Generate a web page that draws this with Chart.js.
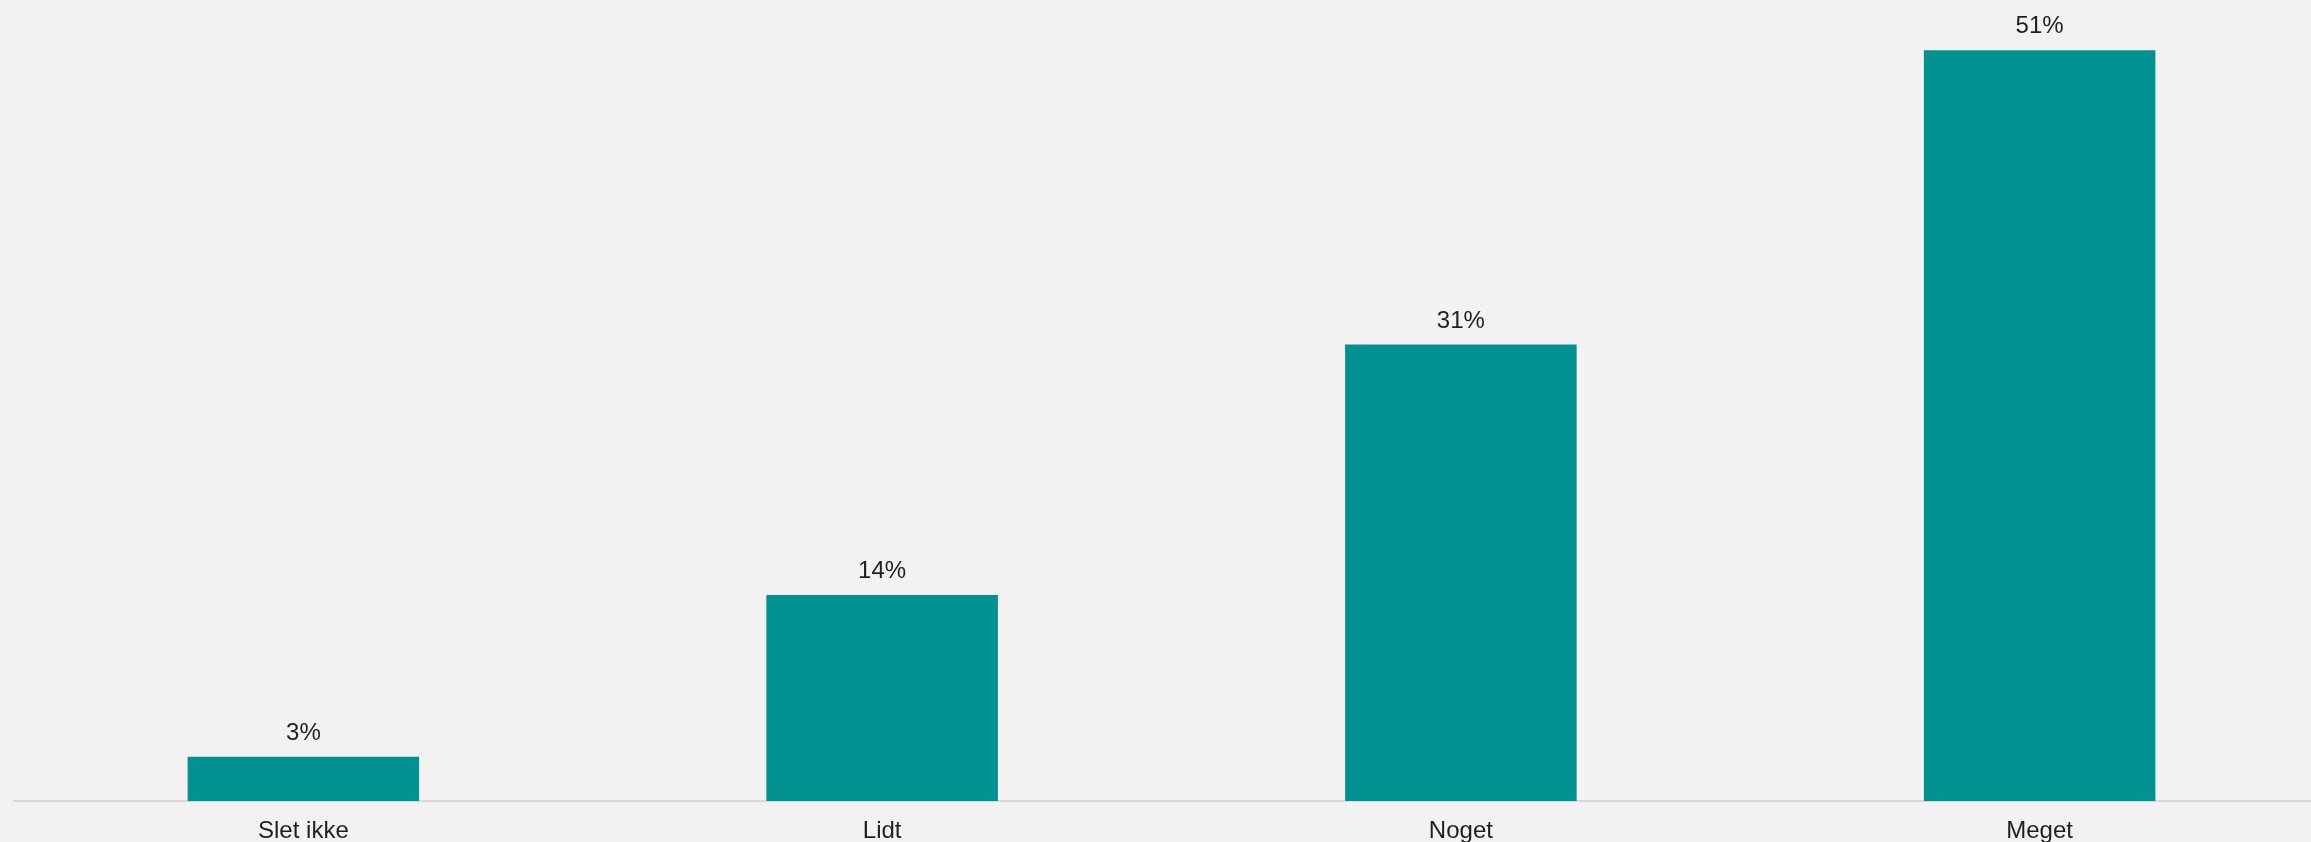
<!DOCTYPE html>
<html>
<head>
<meta charset="utf-8">
<script src="https://cdn.jsdelivr.net/npm/chart.js@4/dist/chart.umd.min.js"></script>
<style>
  html, body { margin: 0; padding: 0; background: #f2f2f2; overflow: hidden; width: 2311px; height: 842px; }
  #wrap { position: absolute; left: 0; top: 0; width: 2330px; height: 870px; }
</style>
</head>
<body>
<div id="wrap"><canvas id="c" width="2330" height="870"></canvas></div>
<script>
// Survey answer categories and share of respondents (%)
const categories = ['Slet ikke', 'Lidt', 'Noget', 'Meget'];
const shares = [3, 14, 31, 51];
const valueSuffix = '%';

const BAR_COLOR = '#009190';
const TEXT_COLOR = '#1f1f1f';
const FONT_FAMILY = '"Liberation Sans", Arial, sans-serif';

// Writes each bar's value just above the bar
const valueLabels = {
  id: 'valueLabels',
  afterDatasetsDraw(chart) {
    const ctx = chart.ctx;
    const meta = chart.getDatasetMeta(0);
    ctx.save();
    ctx.font = '24px ' + FONT_FAMILY;
    ctx.fillStyle = TEXT_COLOR;
    ctx.textAlign = 'center';
    ctx.textBaseline = 'alphabetic';
    meta.data.forEach((bar, i) => {
      ctx.fillText(shares[i] + valueSuffix, bar.x, bar.y - 17);
    });
    ctx.restore();
  }
};

new Chart(document.getElementById('c'), {
  type: 'bar',
  data: {
    labels: categories,
    datasets: [{
      data: shares,
      backgroundColor: BAR_COLOR,
      borderWidth: 0,
      barPercentage: 0.4,
      categoryPercentage: 1.0
    }]
  },
  options: {
    responsive: false,
    animation: false,
    devicePixelRatio: 1,
    layout: { padding: { left: 14, right: 1, top: 6, bottom: 0 } },
    plugins: { legend: { display: false }, tooltip: { enabled: false } },
    scales: {
      x: {
        grid: { display: false, drawTicks: false },
        border: { display: true, color: '#d9d9d9', width: 2 },
        ticks: { color: TEXT_COLOR, font: { family: FONT_FAMILY, size: 24 }, padding: 16 },
        afterFit(scale) { scale.height = 69; }
      },
      y: {
        display: false,
        min: 0,
        max: 54
      }
    }
  },
  plugins: [valueLabels]
});
</script>
</body>
</html>
